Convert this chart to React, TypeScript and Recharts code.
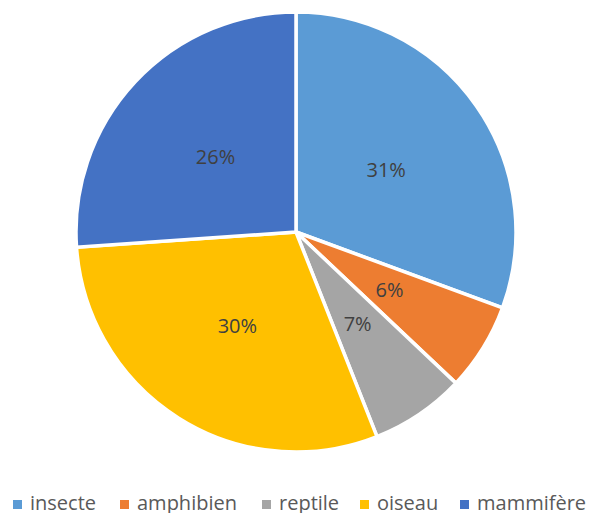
import { PieChart, Pie, Cell, Legend } from 'recharts';

const categories = ['insecte', 'amphibien', 'reptile', 'oiseau', 'mammifère'];
const shares = [30.6, 6.45, 6.95, 29.9, 26.1];
const colors = ['#5B9BD5', '#ED7D31', '#A5A5A5', '#FFC000', '#4472C4'];
// left edge of each legend marker
const legendX = [13, 120, 262, 360, 460];

const data = categories.map((name, i) => ({ name, value: shares[i] }));

const RADIAN = Math.PI / 180;

function renderLabel(props: any) {
  const { cx, cy, midAngle, outerRadius, percent } = props;
  const r = outerRadius * 0.5;
  const x = cx + r * Math.cos(-midAngle * RADIAN);
  const y = cy + r * Math.sin(-midAngle * RADIAN);
  return (
    <text
      x={x}
      y={y}
      fill="#404040"
      fontSize={20}
      fontFamily="'Open Sans', sans-serif"
      textAnchor="middle"
      dominantBaseline="central"
    >
      {`${Math.round(percent * 100)}%`}
    </text>
  );
}

function LegendContent() {
  return (
    <div
      style={{
        position: 'relative',
        width: 590,
        height: 25,
        fontFamily: "'Open Sans', sans-serif",
        fontSize: 20,
        color: '#595959',
        whiteSpace: 'nowrap',
      }}
    >
      {categories.map((c, i) => (
        <div key={c} style={{ position: 'absolute', left: legendX[i], top: 0, height: 25 }}>
          <span
            style={{
              position: 'absolute',
              left: 0,
              top: 12,
              width: 9,
              height: 9,
              background: colors[i],
            }}
          />
          <span style={{ position: 'absolute', left: 17, top: 1, lineHeight: '27px' }}>{c}</span>
        </div>
      ))}
    </div>
  );
}

export default function App() {
  return (
    <div style={{ position: 'absolute', left: 0, top: 0, width: 590, height: 513, background: '#fff', overflow: 'hidden' }}>
      <PieChart width={590} height={513} margin={{ top: 0, right: 0, bottom: 0, left: 0 }}>
        <Pie
          data={data}
          dataKey="value"
          nameKey="name"
          cx={296}
          cy={232}
          outerRadius={220}
          startAngle={90}
          endAngle={-270}
          stroke="#fff"
          strokeWidth={3.5}
          label={renderLabel}
          labelLine={false}
          isAnimationActive={false}
        >
          {data.map((d, i) => (
            <Cell key={d.name} fill={colors[i]} />
          ))}
        </Pie>
        <Legend
          content={LegendContent}
          wrapperStyle={{ left: 0, width: 590, top: 488, height: 25 }}
        />
      </PieChart>
    </div>
  );
}
